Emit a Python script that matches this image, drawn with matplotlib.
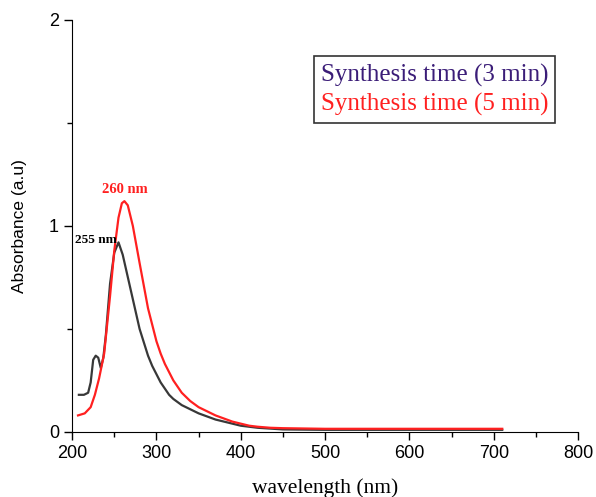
import numpy as np
import matplotlib.pyplot as plt

wl_3 = [208, 214, 219, 222, 225, 228, 231, 234, 237, 240, 245, 250, 255, 260, 265, 270, 280, 290, 295, 300, 305,
        310, 315, 320, 330, 340, 350, 360, 370, 380, 390, 400, 420, 450, 500, 600, 710]
abs_3 = [0.18, 0.18, 0.19, 0.24, 0.35, 0.37, 0.36, 0.31, 0.36, 0.47, 0.72, 0.87, 0.92, 0.86, 0.77, 0.68, 0.50, 0.37, 0.32, 0.28, 0.24,
         0.21, 0.18, 0.16, 0.13, 0.11, 0.09, 0.075, 0.06, 0.05, 0.04, 0.03, 0.02, 0.012, 0.01, 0.01, 0.01]
wl_5 = [207, 215, 222, 227, 232, 238, 245, 250, 255, 259, 262, 266, 272, 280, 290, 300, 305, 310, 315,
        320, 330, 340, 350, 360, 370, 380, 390, 400, 410, 420, 435, 450, 500, 600, 710]
abs_5 = [0.08, 0.09, 0.12, 0.18, 0.26, 0.38, 0.66, 0.88, 1.04, 1.11, 1.12, 1.10, 1.00, 0.82, 0.60, 0.44, 0.38, 0.33, 0.29,
         0.25, 0.19, 0.15, 0.12, 0.10, 0.08, 0.065, 0.05, 0.04, 0.03, 0.025, 0.02, 0.018, 0.015, 0.015, 0.015]
labels = ['Synthesis time (3 min)', 'Synthesis time (5 min)']

fig = plt.figure(figsize=(5.96, 4.97), dpi=100)
ax = fig.add_axes([0.121, 0.131, 0.849, 0.829])

ax.plot(wl_3, abs_3, color='#383838', lw=1.6)
ax.plot(wl_5, abs_5, color='#ff2020', lw=1.6)

ax.set_xlim(200, 800)
ax.set_ylim(0, 2)
ax.set_xticks(range(200, 801, 100))
ax.set_xticks(range(250, 800, 100), minor=True)
ax.set_yticks([0, 1, 2])
ax.set_yticks([0.5, 1.5], minor=True)
ax.tick_params(direction='out', length=6, width=1, labelsize=13)
ax.tick_params(which='minor', direction='out', length=3.5, width=1)
for lab in ax.get_xticklabels() + ax.get_yticklabels():
    lab.set_family('Liberation Sans')
ax.spines['top'].set_visible(False)
ax.spines['right'].set_visible(False)

ax.set_xlabel('wavelength (nm)', family='Liberation Serif', fontsize=15.5, labelpad=12)
ax.set_ylabel('Absorbance (a.u)', family='Liberation Sans', fontsize=12.5, labelpad=16)

ax.text(262, 1.175, '260 nm', color='#ff2020', fontsize=10.5, fontweight='bold',
        family='Liberation Serif', ha='center', va='center')
ax.text(253, 0.93, '255 nm', color='black', fontsize=9.5, fontweight='bold',
        family='Liberation Serif', ha='right', va='center')

ax.text(0.716, 0.83, labels[0] + '\n', color='#3b1d78', fontsize=18,
        family='Liberation Serif', ha='center', va='center', transform=ax.transAxes,
        linespacing=1.45,
        bbox=dict(boxstyle='square,pad=0.28', fc='white', ec='#333333', lw=1.2))
ax.text(0.716, 0.83, '\n' + labels[1], color='#ff2020', fontsize=18,
        family='Liberation Serif', ha='center', va='center', transform=ax.transAxes,
        linespacing=1.45)

fig.savefig('out.png', dpi=100)
